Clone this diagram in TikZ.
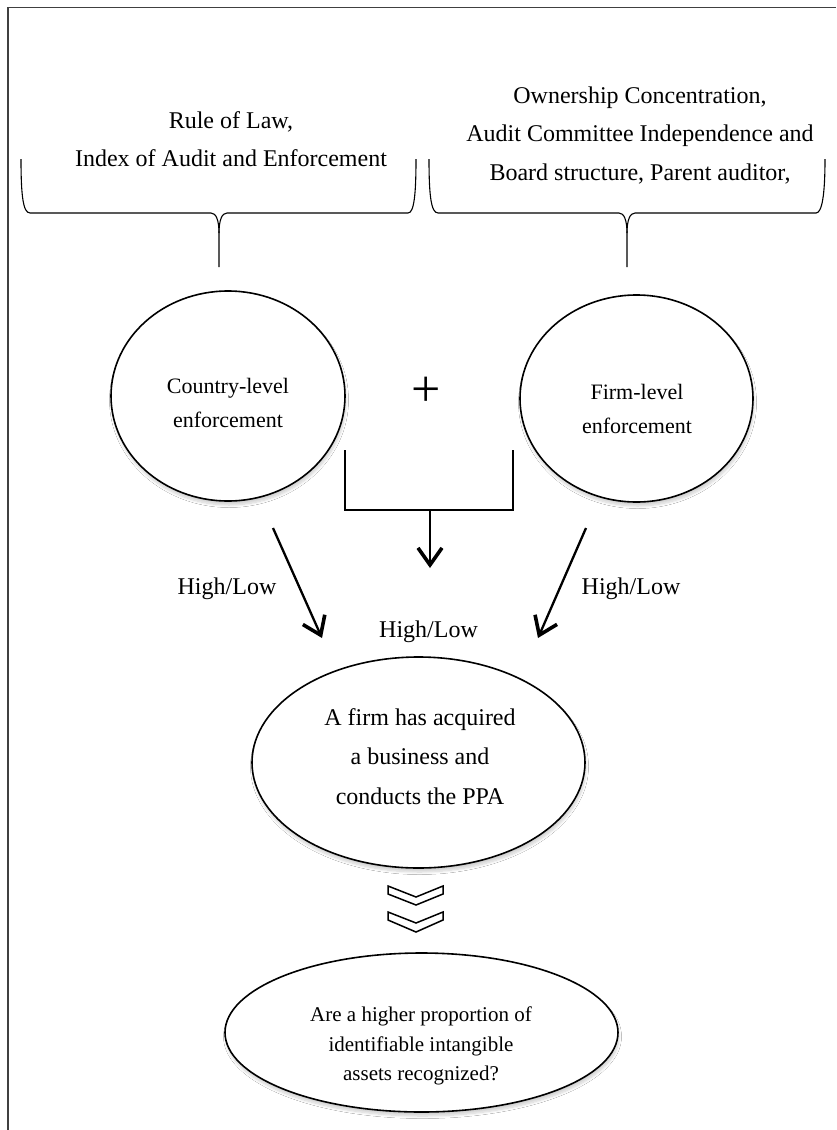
\documentclass[tikz,border=0pt]{standalone}
\usepackage{fontspec}
\setmainfont{Liberation Serif}
\usetikzlibrary{arrows.meta,shapes.geometric,shadows.blur}
\begin{document}
\begin{tikzpicture}[x=1pt,y=-1pt,
  oval/.style={ellipse, draw=black, line width=1.6pt, fill=white, inner sep=0pt,
    blur shadow={shadow xshift=1pt, shadow yshift=-4pt, shadow blur radius=2.5pt, shadow opacity=18, shadow blur steps=8}},
  bigtext/.style={font=\fontsize{24}{38.5}\selectfont, align=center, inner sep=0pt},
  ovaltext/.style={font=\fontsize{22}{34}\selectfont, align=center, inner sep=0pt},
  midtext/.style={font=\fontsize{24}{39.5}\selectfont, align=center, inner sep=0pt},
  lowtext/.style={font=\fontsize{21}{29.5}\selectfont, align=center, inner sep=0pt},
  hl/.style={font=\fontsize{24}{28}\selectfont, inner sep=0pt, anchor=base},
  flow/.style={line width=2.3pt, -{Straight Barb[length=17pt,width=24pt,line width=3.6pt]}},
  bracketline/.style={line width=2.3pt, line join=miter},
  brace/.style={draw=black, line width=1.1pt},
  chev/.style={draw=black, line width=1.5pt, fill=white, line join=miter},
  frameline/.style={draw=black!75, line width=1.6pt}
]
\useasboundingbox (0,0) rectangle (836,1130);
\fill[white] (0,0) rectangle (836,1130);

% frame (top and left edges)
\draw[frameline] (836,7.5) -- (8,7.5) -- (8,1130);

% top texts
\node[bigtext] (tl) at (231,139) {Rule of Law,\\Index of Audit and Enforcement};
\node[bigtext] (tr) at (640,135.5) {Ownership Concentration,\\Audit Committee Independence and\\Board structure, Parent auditor,};

% braces
\coordinate (lbtip) at (219,267);
\coordinate (rbtip) at (627,267);
\draw[brace] (21,159) .. controls (21,195) and (23,213) .. (30,213) -- (211,213)
  .. controls (216,213) and (219,220) .. (219,233) -- (lbtip);
\draw[brace] (219,233) .. controls (219,220) and (222,213) .. (227,213) -- (408,213)
  .. controls (414,213) and (416,195) .. (416,159);
\draw[brace] (429,159) .. controls (429,195) and (431,213) .. (438,213) -- (619,213)
  .. controls (624,213) and (627,220) .. (627,233) -- (rbtip);
\draw[brace] (627,233) .. controls (627,220) and (630,213) .. (635,213) -- (816,213)
  .. controls (822,213) and (825,195) .. (825,159);

% circles
\node[oval, minimum width=234pt, minimum height=210pt] (cl) at (228,396) {};
\node[ovaltext] (cltext) at (228,403) {Country-level\\enforcement};
\node[oval, minimum width=233pt, minimum height=207pt] (cr) at (636.5,398.5) {};
\node[ovaltext] (crtext) at (637,409) {Firm-level\\enforcement};
\node[font=\fontsize{52}{52}\selectfont, inner sep=0pt] (plus) at (426,392) {+};

% bracket and arrows
\coordinate (bl) at (345,450);
\coordinate (br) at (513,450);
\coordinate (bm) at (430,510);
\coordinate (bt) at (430,568);
\draw[bracketline] (bl) -- (bl |- bm) -- (br |- bm) -- (br);
\draw[flow] (bm) -- (bt);

\coordinate (la) at (273,528);
\coordinate (lb) at (322,638);
\coordinate (ra) at (586,528);
\coordinate (rb) at (538,638);
\draw[flow] (la) -- (lb);
\draw[flow] (ra) -- (rb);

\node[hl] (hll) at (227,594) {High/Low};
\node[hl] (hlr) at (631,594) {High/Low};
\node[hl] (hlc) at (428.5,637) {High/Low};

% middle ellipse
\node[oval, minimum width=333pt, minimum height=211pt] (mid) at (418.5,762.5) {};
\node[midtext] (midtext) at (420,756.5) {A firm has acquired\\a business and\\conducts the PPA};

% chevrons
\draw[chev] (388,886) -- (416,897) -- (443,886) -- (443,894) -- (416,905) -- (388,894) -- cycle;
\draw[chev] (388,912) -- (416,923) -- (443,912) -- (443,920) -- (416,932) -- (388,920) -- cycle;

% bottom ellipse
\node[oval, minimum width=393pt, minimum height=159pt] (bot) at (421.5,1032.5) {};
\node[lowtext] (bottext) at (421,1046) {Are a higher proportion of\\identifiable intangible\\assets recognized?};
\end{tikzpicture}
\end{document}
